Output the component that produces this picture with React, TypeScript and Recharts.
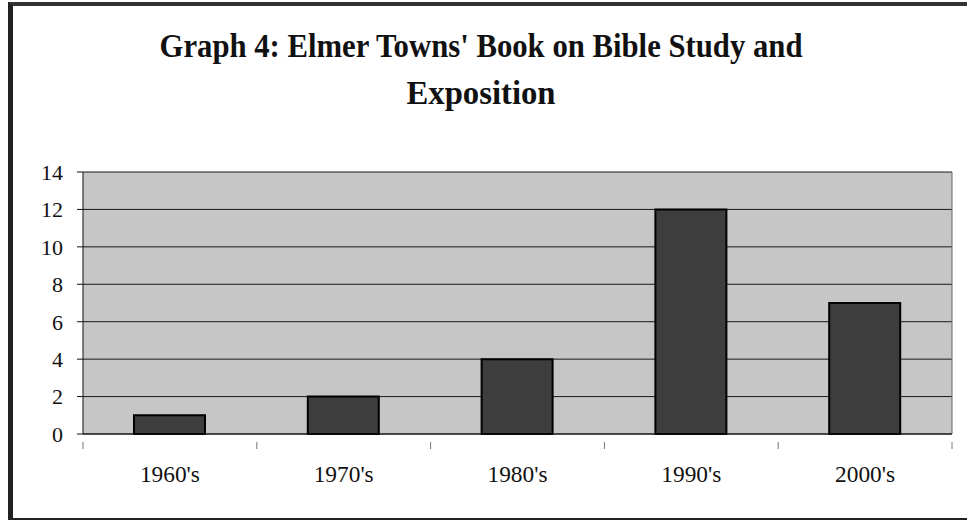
import { BarChart, Bar, XAxis, YAxis, CartesianGrid } from "recharts";

const decades = ["1960's", "1970's", "1980's", "1990's", "2000's"];
const books = [1, 2, 4, 12, 7];
const yTicks = [0, 2, 4, 6, 8, 10, 12, 14];
const titleLines = ["Graph 4: Elmer Towns' Book on Bible Study and", "Exposition"];

const data = decades.map((d, i) => ({ decade: d, books: books[i] }));

const PLOT_LEFT = 83;
const PLOT_RIGHT = 952;
const BAND = (PLOT_RIGHT - PLOT_LEFT) / decades.length;
const serif = "'Liberation Serif', 'DejaVu Serif', serif";

// Excel-style x ticks: marks on the category boundaries, labels centred
const DecadeTick = (props: any) => {
  const { x, y, payload, index } = props;
  const left = x - BAND / 2;
  return (
    <g>
      <line x1={left} y1={y} x2={left} y2={y + 7} stroke="#777" />
      {index === decades.length - 1 && (
        <line x1={x + BAND / 2} y1={y} x2={x + BAND / 2} y2={y + 7} stroke="#777" />
      )}
      <text
        x={x}
        y={y + 40}
        textAnchor="middle"
        fontFamily={serif}
        fontSize={24}
        textLength={60}
        lengthAdjust="spacingAndGlyphs"
        fill="#111"
      >
        {payload.value}
      </text>
    </g>
  );
};

export default function App() {
  return (
    <div
      style={{
        position: "fixed",
        left: 0,
        top: 0,
        width: 967,
        height: 520,
        background: "#fff",
        overflow: "hidden",
      }}
    >
      <div
        style={{
          position: "absolute",
          left: 8,
          top: 2,
          width: 970,
          height: 512,
          borderLeft: "5px solid #222",
          borderTop: "4px solid #333",
          borderBottom: "4px solid #222",
        }}
      />
      <svg
        width={967}
        height={130}
        style={{ position: "absolute", left: 0, top: 0 }}
      >
        <text
          x={481}
          y={57}
          textAnchor="middle"
          fontFamily={serif}
          fontWeight="bold"
          fontSize={33}
          textLength={643}
          lengthAdjust="spacingAndGlyphs"
          fill="#111"
        >
          {titleLines[0]}
        </text>
        <text
          x={481}
          y={104}
          textAnchor="middle"
          fontFamily={serif}
          fontWeight="bold"
          fontSize={33}
          textLength={149}
          lengthAdjust="spacingAndGlyphs"
          fill="#111"
        >
          {titleLines[1]}
        </text>
      </svg>
      <div style={{ position: "absolute", left: 0, top: 0 }}>
        <BarChart
          width={967}
          height={520}
          data={data}
          margin={{ top: 172, right: 14, bottom: 0, left: 0 }}
          barSize={71}
        >
          <CartesianGrid
            vertical={false}
            fill="#c6c6c6"
            fillOpacity={1}
            stroke="#1a1a1a"
          />
          <XAxis
            dataKey="decade"
            height={86}
            axisLine={{ stroke: "#111" }}
            tickLine={false}
            tick={<DecadeTick />}
            interval={0}
          />
          <YAxis
            domain={[0, 14]}
            ticks={yTicks}
            width={PLOT_LEFT}
            tickSize={6}
            tickMargin={14}
            axisLine={{ stroke: "#111" }}
            tickLine={{ stroke: "#111" }}
            tick={{ fontFamily: serif, fontSize: 22, fill: "#111" }}
          />
          <YAxis
            yAxisId="frame"
            orientation="right"
            width={1}
            domain={[0, 14]}
            tick={false}
            tickLine={false}
            axisLine={{ stroke: "#666" }}
          />
          <Bar
            dataKey="books"
            fill="#3d3d3d"
            stroke="#000"
            strokeWidth={2}
            isAnimationActive={false}
          />
        </BarChart>
      </div>
    </div>
  );
}
